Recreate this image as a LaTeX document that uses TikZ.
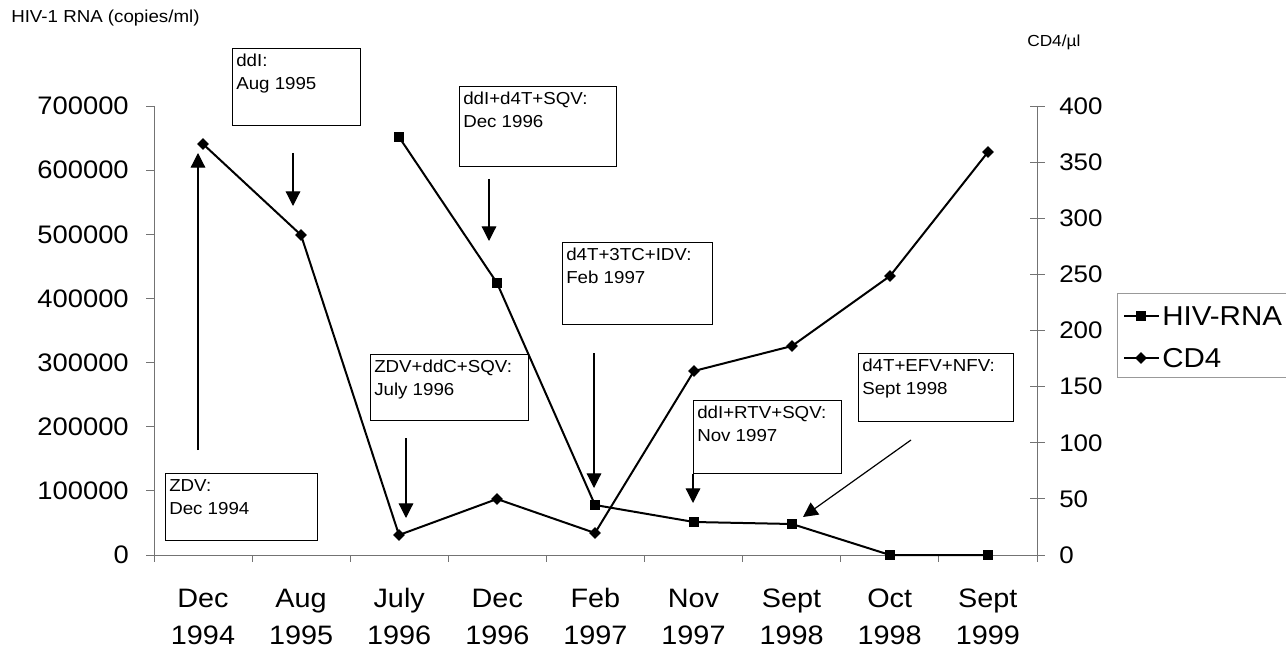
\documentclass[tikz,border=0pt]{standalone}
\usepackage{fontspec}
\setmainfont[FakeStretch=1.08]{Liberation Sans}
\usepackage{tikz}
\usetikzlibrary{arrows.meta,shapes.geometric}

\begin{document}
\begin{tikzpicture}[x=0.75pt,y=-0.75pt,
    axis/.style={black!55, line width=0.6pt},
    rna/.style={rectangle, fill, inner sep=0pt, minimum size=8pt},
    cdf/.style={diamond, fill, inner sep=0pt, minimum size=9pt},
    series/.style={line width=1.5pt, line join=round},
    tag/.style={draw, line width=0.9pt, anchor=north west, inner sep=0pt},
    tagtext/.style={anchor=north west, inner xsep=3pt, inner ysep=4.5pt, align=left,
      font=\fontsize{13pt}{17.25pt}\selectfont},
    pointer/.style={line width=0.9pt, -{Triangle[length=11pt,width=11pt]}},
    ticklabel/.style={inner sep=0pt, font=\fontsize{19pt}{23pt}\selectfont},
    catlabel/.style={align=center, inner sep=0pt, font=\fontsize{20pt}{27.75pt}\selectfont}]
  \useasboundingbox (0,0) rectangle (1286,649);

  \node(YT)[anchor=west, inner sep=0pt, font=\fontsize{13pt}{15pt}\selectfont] at (11,18) {HIV-1 RNA (copies/ml)};
  \node(ZT)[anchor=west, inner sep=0pt, font=\fontsize{12pt}{14pt}\selectfont] at (1027,42) {CD4/µl};

  \draw[axis] (154,106) -- (154,555) -- (1037,555);
  \draw[axis] (1037,106) -- (1037,555);
  \foreach \i/\t in {0/0,1/100000,2/200000,3/300000,4/400000,5/500000,6/600000,7/700000}{
    \draw[axis] (146,{555-64.14*\i}) -- (154,{555-64.14*\i});
    \node(L\i)[ticklabel, anchor=east] at (129,{555-64.14*\i}) {\t};
  }
  \foreach \i/\t in {0/0,1/50,2/100,3/150,4/200,5/250,6/300,7/350,8/400}{
    \draw[axis] (1030,{555-56.125*\i}) -- (1045,{555-56.125*\i});
    \node(M\i)[ticklabel, anchor=west, font=\fontsize{18pt}{22pt}\selectfont] at (1059,{555-56.125*\i}) {\t};
  }
  \foreach \i in {0,...,9}
    \draw[axis] ({154+98.1*\i},555) -- ({154+98.1*\i},562);
  \foreach \m/\y [count=\i from 0] in {Dec/1994,Aug/1995,July/1996,Dec/1996,Feb/1997,Nov/1997,Sept/1998,Oct/1998,Sept/1999}
    \node(X\i)[catlabel] at ({203+98.1*\i},619) {\strut\m\\\strut\y};

  \node(C1)[cdf] at (203,144) {};
  \node(C2)[cdf] at (301,235) {};
  \node(C3)[cdf] at (399,535) {};
  \node(C4)[cdf] at (497,499) {};
  \node(C5)[cdf] at (595,533) {};
  \node(C6)[cdf] at (694,371) {};
  \node(C7)[cdf] at (792,346) {};
  \node(C8)[cdf] at (890,276) {};
  \node(C9)[cdf] at (988,152) {};

  \node(R3)[rna] at (399,137) {};
  \node(R4)[rna] at (497,283) {};
  \node(R5)[rna] at (595,505) {};
  \node(R6)[rna] at (694,522) {};
  \node(R7)[rna] at (792,524) {};
  \node(R8)[rna] at (890,555) {};
  \node(R9)[rna] at (988,555) {};

  \draw[series] (C1.center) -- (C2.center) -- (C3.center) -- (C4.center) -- (C5.center)
    -- (C6.center) -- (C7.center) -- (C8.center) -- (C9.center);
  \draw[series] (R3.center) -- (R4.center) -- (R5.center) -- (R6.center) -- (R7.center)
    -- (R8.center) -- (R9.center);

  \node(B1)[tag, minimum width=114pt, minimum height=50.25pt] at (165,473) {};
  \node(T1)[tagtext] at (B1.north west) {ZDV:\\Dec 1994};
  \node(B2)[tag, minimum width=96pt, minimum height=57.75pt] at (232,48) {};
  \node(T2)[tagtext] at (B2.north west) {ddI:\\Aug 1995};
  \node(B3)[tag, minimum width=118.5pt, minimum height=49.5pt] at (370,354) {};
  \node(T3)[tagtext] at (B3.north west) {ZDV+ddC+SQV:\\July 1996};
  \node(B4)[tag, minimum width=117.75pt, minimum height=60pt] at (459,86) {};
  \node(T4)[tagtext] at (B4.north west) {ddI+d4T+SQV:\\Dec 1996};
  \node(B5)[tag, minimum width=112.5pt, minimum height=61.5pt] at (562,242) {};
  \node(T5)[tagtext] at (B5.north west) {d4T+3TC+IDV:\\Feb 1997};
  \node(B6)[tag, minimum width=111pt, minimum height=54.75pt] at (693,400) {};
  \node(T6)[tagtext] at (B6.north west) {ddI+RTV+SQV:\\Nov 1997};
  \node(B7)[tag, minimum width=116.25pt, minimum height=51pt] at (858,353) {};
  \node(T7)[tagtext] at (B7.north west) {d4T+EFV+NFV:\\Sept 1998};

  \coordinate (P1) at (198,450); \coordinate (Q1) at (198,153);
  \coordinate (P2) at (293,153); \coordinate (Q2) at (293,206);
  \coordinate (P3) at (406,438); \coordinate (Q3) at (406,518);
  \coordinate (P4) at (489,179); \coordinate (Q4) at (489,241);
  \coordinate (P5) at (594,353); \coordinate (Q5) at (594,488);
  \coordinate (Q6) at (693,503);
  \coordinate (P7) at (911,440); \coordinate (Q7) at (803,517);
  \draw[pointer] (P1) -- (Q1);
  \draw[pointer] (P2) -- (Q2);
  \draw[pointer] (P3) -- (Q3);
  \draw[pointer] (P4) -- (Q4);
  \draw[pointer] (P5) -- (Q5);
  \draw[pointer] (B6.south west) -- (Q6);
  \draw[pointer] (P7) -- (Q7);

  \draw[black!40, line width=0.6pt] (1286,293) -- (1117,293) -- (1117,377) -- (1286,377);
  \coordinate (K1a) at (1124,316); \coordinate (K1b) at (1159,316);
  \coordinate (K2a) at (1124,358); \coordinate (K2b) at (1159,358);
  \draw[series] (K1a) -- (K1b);
  \draw[series] (K2a) -- (K2b);
  \node(K1)[rna] at (1141,316) {};
  \node(K2)[cdf] at (1141,358) {};
  \node(N1)[anchor=west, inner sep=0pt, font=\fontsize{20.5pt}{24pt}\selectfont] at (1162,316) {HIV-RNA};
  \node(N2)[anchor=west, inner sep=0pt, font=\fontsize{20.5pt}{24pt}\selectfont] at (1162,358) {CD4};
\end{tikzpicture}
\end{document}
